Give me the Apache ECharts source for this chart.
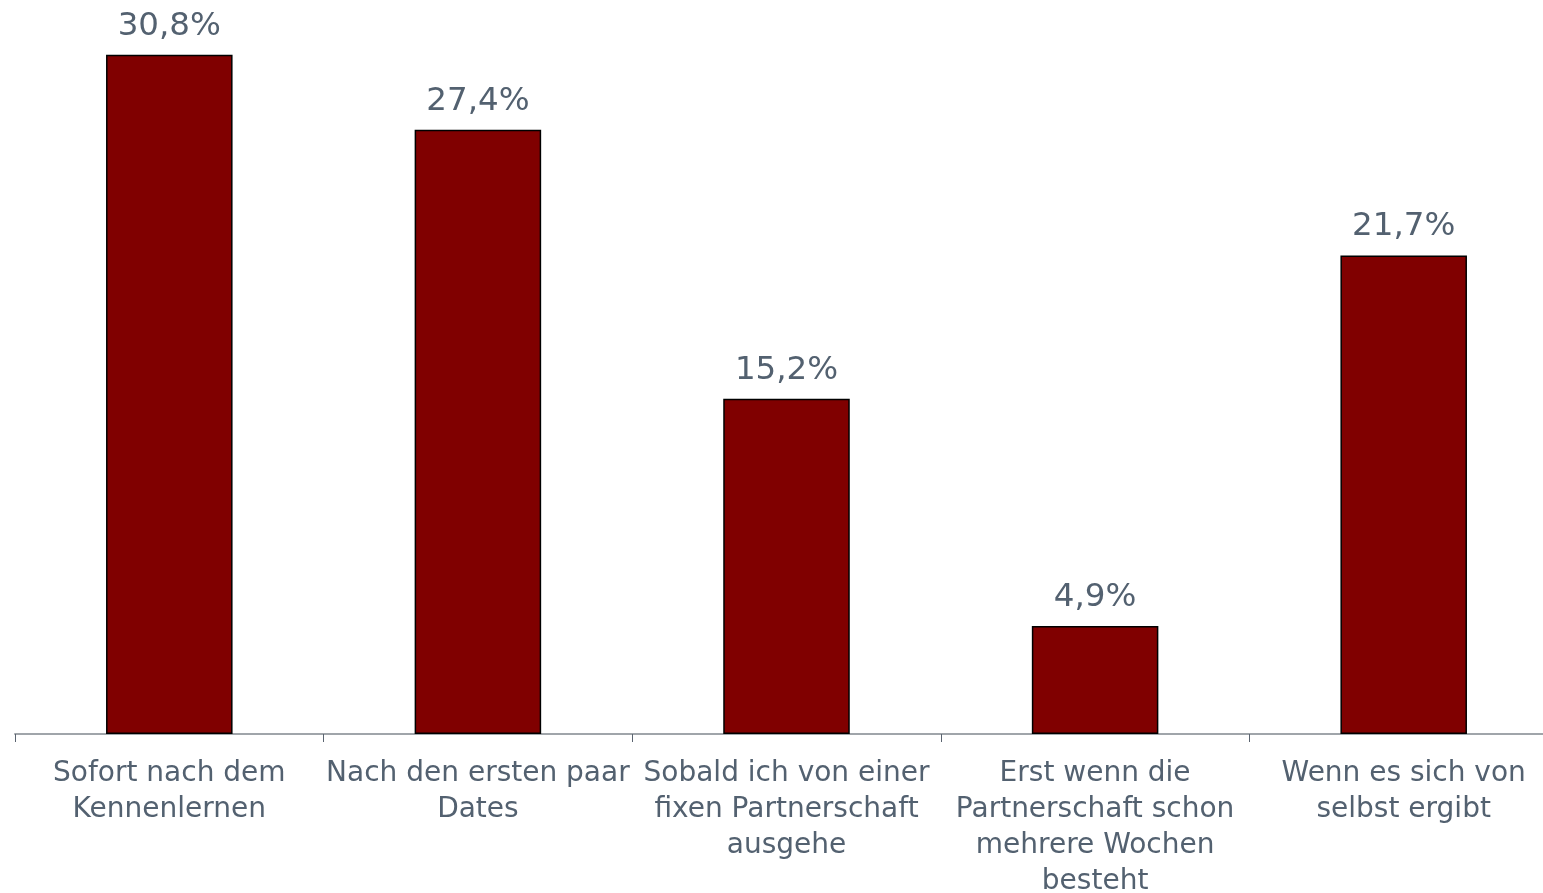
<!DOCTYPE html>
<html>
<head>
<meta charset="utf-8">
<script src="https://cdn.jsdelivr.net/npm/echarts@6/dist/echarts.min.js"></script>
<style>html,body{margin:0;padding:0;background:#fff}#c{width:1543px;height:893px}</style>
</head>
<body>
<div id="c"></div>
<script>
const categories = [
  "Sofort nach dem\nKennenlernen",
  "Nach den ersten paar\nDates",
  "Sobald ich von einer\nfixen Partnerschaft\nausgehe",
  "Erst wenn die\nPartnerschaft schon\nmehrere Wochen\nbesteht",
  "Wenn es sich von\nselbst ergibt"
];
const values = [30.8, 27.4, 15.2, 4.9, 21.7];

const chart = echarts.init(document.getElementById('c'));
chart.setOption({
  animation: false,
  backgroundColor: '#fff',
  textStyle: { fontFamily: 'DejaVu Sans' },
  grid: { left: 15, right: -15, top: 28.4, bottom: 159, containLabel: false, outerBoundsMode: 'none' },
  xAxis: {
    type: 'category',
    data: categories,
    axisLine: { lineStyle: { color: '#a0a5aa', width: 2 } },
    axisTick: { show: true, length: 8, lineStyle: { color: '#5a6470', width: 1 } },
    axisLabel: {
      color: '#536170', fontSize: 28, lineHeight: 36, margin: 22,
      fontFamily: 'DejaVu Sans', interval: 0, align: 'center'
    }
  },
  yAxis: { type: 'value', min: 0, max: 32, show: false, splitLine: { show: false } },
  series: [{
    type: 'bar',
    data: values,
    barWidth: '41%',
    itemStyle: { color: '#800000', borderColor: '#000', borderWidth: 1.5 },
    label: {
      show: true, position: 'top', distance: 12,
      color: '#536170', fontSize: 32.5, fontFamily: 'DejaVu Sans',
      formatter: p => p.value.toFixed(1).replace('.', ',') + '%'
    }
  }]
});
</script>
</body>
</html>
